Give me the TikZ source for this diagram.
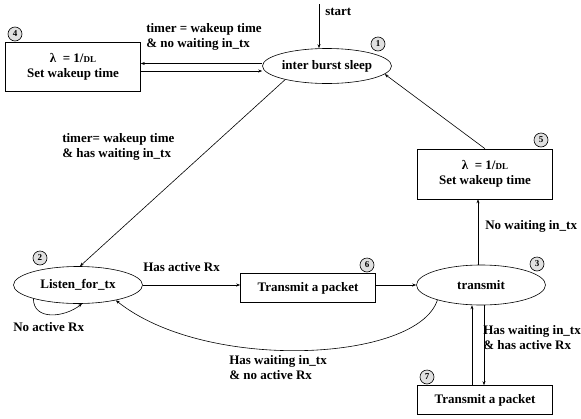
\documentclass[tikz,border=0pt]{standalone}
\usepackage{fontspec}
\setmainfont{Liberation Serif}
\usetikzlibrary{shapes.geometric,arrows.meta}

\begin{document}
\begin{tikzpicture}[x=1pt,y=-1pt,line width=0.6pt,
  every node/.style={font=\fontsize{13}{15}\selectfont\bfseries},
  state/.style={draw,ellipse,minimum width=129pt,minimum height=35pt,inner sep=0pt},
  box/.style={draw,rectangle,minimum width=135pt,align=center,inner sep=0pt},
  num/.style={draw,circle,fill=black!12,minimum size=14pt,inner sep=0pt,font=\fontsize{9}{9}\selectfont\bfseries},
  lbl/.style={align=left,inner sep=0pt},
  arr/.style={-{Stealth[length=4pt,width=3pt]}}]
\useasboundingbox (0,0) rectangle (581,418);
% states
\node[state] (sleep) at (327,66) {inter burst sleep};
\node[state,minimum height=37pt] (listen) at (78,285) {Listen\_for\_tx};
\node[state,minimum height=40pt] (transmit) at (481,285) {transmit};
% boxes
\node[box,minimum height=49pt] (wake4) at (73,67) {λ\ \ = 1/{\fontsize{9}{9}\selectfont DL}\\Set wakeup time};
\node[box,minimum height=50pt] (wake5) at (485,174) {λ\ \ = 1/{\fontsize{9}{9}\selectfont DL}\\Set wakeup time};
\node[box,minimum height=29pt] (send6) at (308,288) {Transmit a packet};
\node[box,minimum height=29pt] (send7) at (485,400) {Transmit a packet};
% numbers
\node[num] (n1) at (378,44) {1};
\node[num] (n2) at (40,258) {2};
\node[num] (n3) at (537,264) {3};
\node[num] (n4) at (15,34) {4};
\node[num] (n5) at (541,140) {5};
\node[num] (n6) at (367,265) {6};
\node[num] (n7) at (427,377) {7};
% start
\coordinate (top) at (319,4);
\draw[arr] (top) -- (sleep.north -| top);
\node[lbl,anchor=west] (lstart) at (325,12) {start};
% transitions
\draw[arr] ([yshift=2.5pt]sleep.west) -- ([yshift=2.5pt]sleep.west -| wake4.east);
\draw[arr] ([yshift=-4pt]wake4.east) -- ([yshift=-4pt]wake4.east -| sleep.west);
\node[lbl,anchor=north west] (l1) at (146,23) {timer = wakeup time\\\& no waiting in\_tx};
\draw[arr] (sleep.198) -- (listen.84);
\node[lbl,anchor=north west] (l2) at (62,133) {timer= wakeup time\\\& has waiting in\_tx};
\draw[arr] (listen.197) .. controls +(0,22) and +(-18,14) .. (listen.282);
\node[lbl,anchor=west] (l3) at (13,327) {No active Rx};
\draw[arr] (listen.east) -- (listen.east -| send6.west);
\node[lbl,anchor=west] (l4) at (143,267) {Has active Rx};
\draw[arr] (send6.east |- transmit.west) -- (transmit.west);
\draw[arr] (transmit.199) .. controls +(-20,62) and +(90,72) .. (listen.338);
\node[lbl,anchor=north west] (l5) at (229,355) {Has waiting in\_tx\\\& no active Rx};
\draw[arr] ([xshift=-3pt]transmit.north) -- ([xshift=-3pt]transmit.north |- wake5.south);
\node[lbl,anchor=west] (l6) at (485,226) {No waiting in\_tx};
\draw[arr] (wake5.north) -- (sleep.-8);
\draw[arr] ([xshift=3pt]transmit.south) -- ([xshift=3pt]transmit.south |- send7.north);
\draw[arr] ([xshift=-9pt]transmit.south |- send7.north) -- ([xshift=-9pt]transmit.south);
\node[lbl,anchor=north west] (l7) at (483,325) {Has waiting in\_tx\\\& has active Rx};
\end{tikzpicture}
\end{document}
